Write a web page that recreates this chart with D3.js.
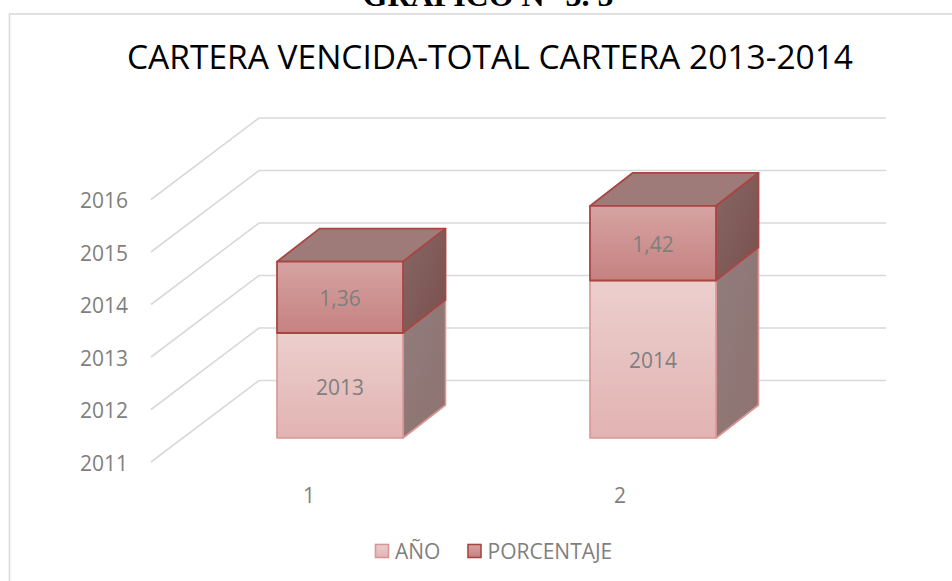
<!DOCTYPE html>
<html><head><meta charset="utf-8">
<script src="https://cdnjs.cloudflare.com/ajax/libs/d3/7.8.5/d3.min.js"></script>
<style>html,body{margin:0;padding:0;background:#fff}svg{display:block}</style></head>
<body><svg id="c" width="952" height="581"></svg>
<script>
const categories = ["1","2"];
const anoValues = [2013,2014];
const pctValues = [1.36,1.42];
const pctLabels = ["1,36","1,42"];
const yTicks = [2011,2012,2013,2014,2015,2016];
const seriesNames = ["AÑO","PORCENTAJE"];
const chartTitle = "CARTERA VENCIDA-TOTAL CARTERA 2013-2014";
const pageHeading = "GRÁFICO N° 3. 5";

const svg = d3.select("#c");
const font = "'Open Sans', 'Noto Sans', sans-serif";
const defs = svg.append("defs");
function grad(id,a,b,x2=0,y2=1){const g=defs.append("linearGradient").attr("id",id).attr("x1",0).attr("y1",0).attr("x2",x2).attr("y2",y2);
 g.append("stop").attr("offset",0).attr("stop-color",a);g.append("stop").attr("offset",1).attr("stop-color",b);}
grad("aFront","#ebcfcd","#e2b3b2");
grad("pFront","#d6a3a2","#c58280");
grad("aSide","#917d7c","#8e7271",1,1);
grad("pSide","#866765","#7a4f4e",1,1);

svg.append("text").attr("x",488).attr("y",6).attr("text-anchor","middle")
 .attr("font-family","'Liberation Serif',serif").attr("font-weight","bold").attr("font-size",32).attr("fill","#000").text(pageHeading);
svg.append("rect").attr("x",9.5).attr("y",14).attr("width",1000).attr("height",620).attr("fill","#fff").attr("stroke","#d9d9d9").attr("stroke-width",1.6);
svg.append("text").attr("x",490).attr("y",69).attr("text-anchor","middle").attr("font-family",font).attr("font-size",33.5).attr("fill","#000").text(chartTitle);

const gridDx=108, gridDy=-81.5;
const yGrid=d3.scaleLinear().domain([2011,2016]).range([462,199.5]);
const yBar=d3.scaleLinear().domain([2011,2016]).range([438,175.5]);
const unit=(yBar(2011)-yBar(2012));
const x0=151, xEnd=886;
const g=svg.append("g");
g.selectAll("polyline").data(yTicks).join("polyline")
 .attr("points",d=>[[x0,yGrid(d)],[x0+gridDx,yGrid(d)+gridDy],[xEnd,yGrid(d)+gridDy]].join(" "))
 .attr("fill","none").attr("stroke","#d9d9d9").attr("stroke-width",1.6);
g.selectAll("text").data(yTicks).join("text").attr("x",128).attr("y",d=>yGrid(d)+8.5)
 .attr("text-anchor","end").attr("font-family",font).attr("font-size",21).attr("fill","#7f7f7f").text(d=>d);

const xBand=d3.scalePoint().domain(categories).range([340,653]);
const xTick=d3.scalePoint().domain(categories).range([309,620]);
const bw=126, dx=42.5, dy=-33;
svg.selectAll(".xt").data(categories).join("text").attr("x",d=>xTick(d)).attr("y",503).attr("text-anchor","middle")
 .attr("font-family",font).attr("font-size",21).attr("fill","#7f7f7f").text(d=>d);

function box(l,yb,yt,front,side,top,stroke,sw){
 const r=l+bw;const G=svg.append("g").attr("stroke",stroke).attr("stroke-width",sw).attr("stroke-linejoin","round");
 if(top)G.append("path").attr("d",d3.line()([[l,yt],[l+dx,yt+dy],[r+dx,yt+dy],[r,yt]])+"Z").attr("fill",top);
 G.append("path").attr("d",d3.line()([[r,yb],[r+dx,yb+dy],[r+dx,yt+dy],[r,yt]])+"Z").attr("fill",side);
 G.append("rect").attr("x",l).attr("y",yt).attr("width",r-l).attr("height",yb-yt).attr("fill",front);
}
categories.forEach((c,i)=>{
 const l=xBand(c)-bw/2, yb=yBar(2011), ya=yb-(anoValues[i]-2011)*unit, yp=ya-pctValues[i]*unit;
 box(l,yb,ya,"url(#aFront)","url(#aSide)",null,"#d99694",1.6);
 box(l,ya,yp,"url(#pFront)","url(#pSide)","#9e7a79","#a94643",1.8);
 const tx=l+bw/2;
 svg.append("text").attr("x",tx).attr("y",(yb+ya)/2+9).attr("text-anchor","middle").attr("font-family",font).attr("font-size",21).attr("fill","#7f7f7f").text(anoValues[i]);
 svg.append("text").attr("x",tx).attr("y",(ya+yp)/2+9).attr("text-anchor","middle").attr("font-family",font).attr("font-size",21).attr("fill","#7f7f7f").text(pctLabels[i]);
});

const leg=[{x:375.5,tx:395,f:"url(#aFront)",s:"#d99694"},{x:468,tx:487.5,f:"url(#pFront)",s:"#a94643"}];
leg.forEach((d,i)=>{
 svg.append("rect").attr("x",d.x).attr("y",544.5).attr("width",13).attr("height",13).attr("fill",d.f).attr("stroke",d.s).attr("stroke-width",1.6);
 svg.append("text").attr("x",d.tx).attr("y",558.5).attr("font-family",font).attr("font-size",21).attr("fill","#7f7f7f").text(seriesNames[i]);
});
</script></body></html>
